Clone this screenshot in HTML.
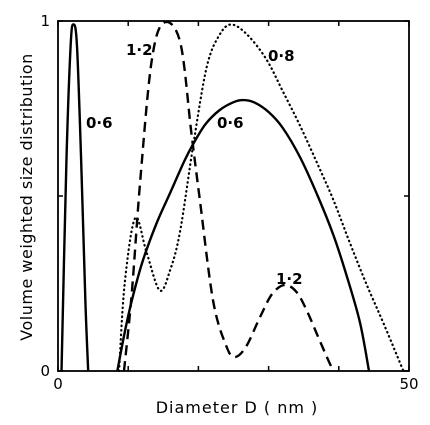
<!DOCTYPE html>
<html><head><meta charset="utf-8"><style>
body{margin:0;background:#fff;}
svg{display:block;font-family:"DejaVu Sans","Liberation Sans",sans-serif;}
</style></head><body>
<svg id="chart" width="430" height="425" viewBox="0 0 430 425">
<rect x="0" y="0" width="430" height="425" fill="#fff"/>
<g id="plot"></g>
</svg>
<script>
const xTicks=[0,10,20,30,40,50];
const xTickLabels=["0","","","","","50"];
const yTicks=[0,0.5,1];
const yTickLabels=["0","","1"];
const solidNarrowX=[0.5,1.2,1.8,2.2,2.7,3.3,3.9,4.3];
const solidNarrowY=[0,0.6,0.93,0.99,0.93,0.6,0.2,0];
const solidBroadX=[8.45,9.5,10.5,12,14,16,18,19.3,21,23,25,26.4,28,30,32,34.5,37,39.2,41,43,44.3];
const solidBroadY=[0,0.11,0.2,0.31,0.42,0.51,0.6,0.65,0.705,0.745,0.768,0.774,0.767,0.74,0.695,0.61,0.5,0.39,0.28,0.14,0];
const dashedX=[9.4,10.5,11.7,13.3,15,17.4,19,20.2,22.1,24,25.2,26.8,28.8,30.5,32.3,34,35.5,37,38.3,39.2];
const dashedY=[0,0.22,0.54,0.88,0.994,0.94,0.68,0.49,0.2,0.07,0.04,0.07,0.155,0.22,0.246,0.225,0.17,0.1,0.04,0];
const dottedX=[8.7,9.5,11,12.6,14.5,16,17.4,19.3,21.2,23,24.7,27,29.7,32,34.5,37,39.2,41.5,43.9,46.5,49.2];
const dottedY=[0,0.25,0.437,0.34,0.23,0.29,0.4,0.65,0.87,0.96,0.99,0.96,0.89,0.8,0.7,0.59,0.49,0.37,0.25,0.13,0];

const X0=58,X1=409,Y0=371,Y1=21;
const sx=v=>X0+(v-0)/(50-0)*(X1-X0);
const sy=v=>Y0-v*(Y0-Y1);
const NS="http://www.w3.org/2000/svg";
const g=document.getElementById('plot');
function mk(t,a,p){const e=document.createElementNS(NS,t);for(const k in a)e.setAttribute(k,a[k]);(p||g).appendChild(e);return e;}
function pathOf(xs,ys){
  const p=xs.map((x,i)=>[sx(x),sy(ys[i])]);
  let d="M"+p[0][0]+","+p[0][1];
  for(let i=0;i<p.length-1;i++){
    const a=p[Math.max(0,i-1)],b=p[i],c=p[i+1],e=p[Math.min(p.length-1,i+2)];
    const c1=[b[0]+(c[0]-a[0])/6,b[1]+(c[1]-a[1])/6];
    const c2=[c[0]-(e[0]-b[0])/6,c[1]-(e[1]-b[1])/6];
    d+=" C"+c1[0]+","+c1[1]+" "+c2[0]+","+c2[1]+" "+c[0]+","+c[1];
  }
  return d;
}
const fr=mk('rect',{x:X0,y:Y1,width:X1-X0,height:Y0-Y1,fill:'none',stroke:'#000','stroke-width':1.8});


xTicks.forEach((t,i)=>{
  const x=sx(t);
  const a=mk('line',{x1:x,x2:x,y1:Y0,y2:Y0-5,stroke:'#000','stroke-width':1.5});
  
  
  const b=mk('line',{x1:x,x2:x,y1:Y1,y2:Y1+5,stroke:'#000','stroke-width':1.5});
  
  
  if(xTickLabels[i]){
    const tx=mk('text',{x:x,y:Y0+18,'font-size':15,'text-anchor':'middle'});
    tx.textContent=xTickLabels[i];
    
    
  }
});
yTicks.forEach((t,i)=>{
  const y=sy(t);
  const a=mk('line',{x1:X0,x2:X0+5,y1:y,y2:y,stroke:'#000','stroke-width':1.5});
  
  
  const b=mk('line',{x1:X1,x2:X1-5,y1:y,y2:y,stroke:'#000','stroke-width':1.5});
  
  
  if(yTickLabels[i]){
    const tx=mk('text',{x:X0-8,y:y+5,'font-size':15,'text-anchor':'end'});
    tx.textContent=yTickLabels[i];
    
    
  }
});
const s1=mk('path',{d:pathOf(solidNarrowX,solidNarrowY),fill:'none',stroke:'#000','stroke-width':2.4});


const s2=mk('path',{d:pathOf(solidBroadX,solidBroadY),fill:'none',stroke:'#000','stroke-width':2.4});


const s3=mk('path',{d:pathOf(dashedX,dashedY),fill:'none',stroke:'#000','stroke-width':2.4,'stroke-dasharray':'10,6'});


const s4=mk('path',{d:pathOf(dottedX,dottedY),fill:'none',stroke:'#000','stroke-width':2.2,'stroke-dasharray':'0.5,4','stroke-linecap':'round'});


const labels=[["0·6",86,128,"label-0-6-narrow"],["1·2",126,55,"label-1-2-upper"],["0·8",268,61,"label-0-8"],["0·6",217,128,"label-0-6-broad"],["1·2",276,284,"label-1-2-lower"]];
labels.forEach(l=>{
  const t=mk('text',{x:l[1],y:l[2],'font-size':15,'font-weight':'bold'});
  t.textContent=l[0];
  
  
});
const xt=mk('text',{x:237,y:413,'font-size':16,'text-anchor':'middle','letter-spacing':'1'});
xt.textContent="Diameter  D ( nm )";


const yt=mk('text',{x:0,y:0,'font-size':16,'text-anchor':'middle','letter-spacing':'0.5',transform:'translate(32,197) rotate(-90)'});
yt.textContent="Volume  weighted  size  distribution";


</script>
</body></html>
